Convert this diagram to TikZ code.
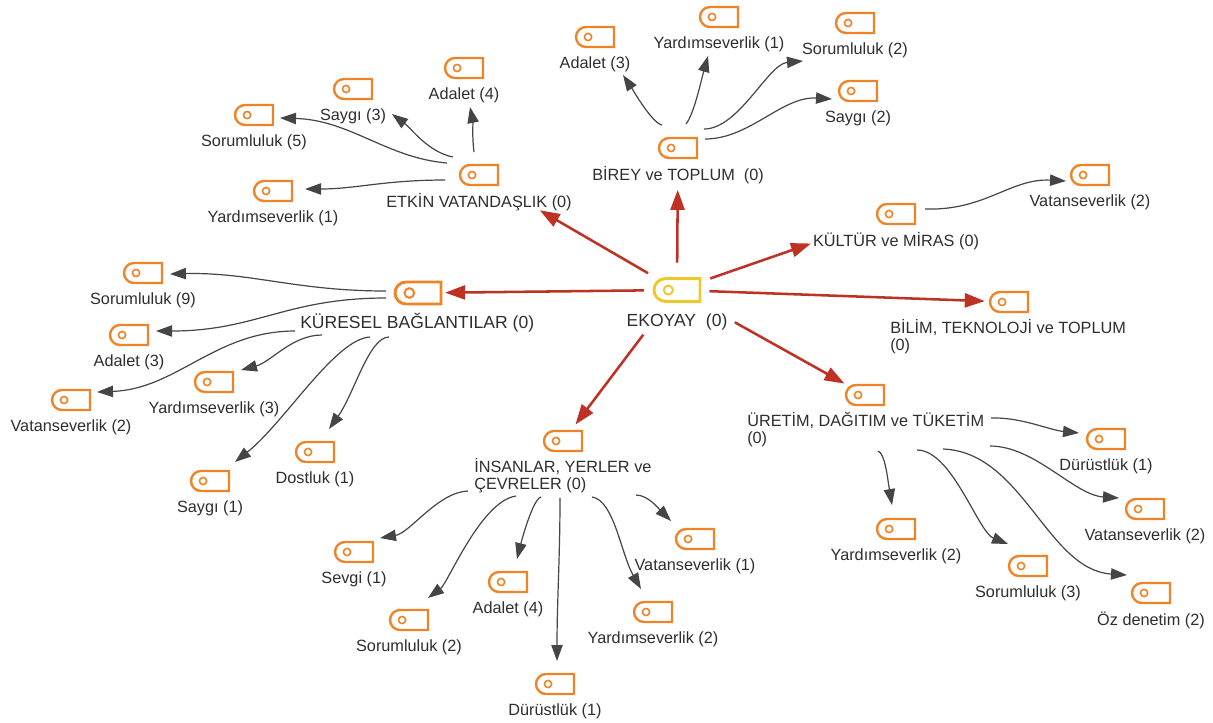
\documentclass[tikz,border=0pt]{standalone}
\usepackage{fontspec}
\setmainfont{Liberation Sans}
\usetikzlibrary{shapes.misc,arrows.meta}

\definecolor{tagorange}{HTML}{EE8427}
\definecolor{tagyellow}{HTML}{EFC82A}
\definecolor{mainred}{HTML}{BE3226}
\definecolor{thingray}{HTML}{454545}
\definecolor{labelgray}{HTML}{2E2E2E}

\tikzset{
    tag node/.style={rounded rectangle,rounded rectangle east arc=none,draw=tagorange,line width=1.8pt,inner sep=0pt,minimum width=28.5pt,minimum height=15pt,
        path picture={\draw[tagorange,line width=1.2pt] ([xshift=-5.2pt,yshift=0pt]path picture bounding box.center) circle (2.7pt);}},
    big node/.style={tag node,line width=2.2pt,minimum width=34.5pt,minimum height=16.5pt,
        path picture={\draw[tagorange,line width=1.5pt] ([xshift=-6.5pt]path picture bounding box.center) circle (3.6pt);}},
    root node/.style={big node,draw=tagyellow,minimum height=17pt,
        path picture={\draw[tagyellow,line width=1.4pt] ([xshift=-6.5pt]path picture bounding box.center) circle (3.4pt);}},
    text node/.style={font=\fontsize{12.2pt}{12.7pt}\selectfont,text=labelgray,inner sep=0pt,align=left},
    big text/.style={text node,font=\fontsize{13.15pt}{14pt}\selectfont},
    red edge/.style={-{Triangle[length=15pt,width=10.5pt]},mainred,line width=1.9pt},
    gray edge/.style={-{Triangle[length=12pt,width=8.5pt]},thingray,line width=0.9pt}
}

\begin{document}
\begin{tikzpicture}[x=0.75pt,y=-0.75pt,node distance=20.5pt]
    \useasboundingbox (0,0) rectangle (1213,722);

    % ana dal
    \node[root node] (ekoyay) at (677,290) {};
    \node[big text,below of=ekoyay,yshift=-3.5pt] (ekoyay l) {EKOYAY \ (0)};
    \node[tag node] (etkin) at (479,175) {};
    \node[text node,below of=etkin] (etkin l) {ETKİN VATANDAŞLIK (0)};
    \node[tag node] (birey) at (678,148) {};
    \node[text node,below of=birey] (birey l) {BİREY ve TOPLUM \ (0)};
    \node[tag node] (kultur) at (896,214) {};
    \node[text node,below of=kultur] (kultur l) {KÜLTÜR ve MİRAS (0)};
    \node[tag node] (bilim) at (1009,302) {};
    \node[text node,anchor=west] (bilim l) at (890,337) {BİLİM, TEKNOLOJİ ve TOPLUM\\(0)};
    \node[big node] (kuresel) at (418,293) {};
    \node[big text,anchor=west] (kuresel l) at (300,323) {KÜRESEL BAĞLANTILAR (0)};
    \node[tag node] (uretim) at (865,395) {};
    \node[text node,anchor=west] (uretim l) at (747,430) {ÜRETİM, DAĞITIM ve TÜKETİM\\(0)};
    \node[tag node] (insanlar) at (563,441) {};
    \node[text node,anchor=west] (insanlar l) at (474,476) {İNSANLAR, YERLER ve\\ÇEVRELER (0)};

    % etkin vatandaslik
    \node[tag node] (e adalet) at (464,68) {};
    \node[text node,below of=e adalet] (e adalet l) {Adalet (4)};
    \node[tag node] (e saygi) at (353,89) {};
    \node[text node,below of=e saygi] (e saygi l) {Saygı (3)};
    \node[tag node] (e sorumluluk) at (254,115) {};
    \node[text node,below of=e sorumluluk] (e sorumluluk l) {Sorumluluk (5)};
    \node[tag node] (e yardim) at (273,191) {};
    \node[text node,below of=e yardim] (e yardim l) {Yardımseverlik (1)};

    % birey ve toplum
    \node[tag node] (b adalet) at (595,37) {};
    \node[text node,below of=b adalet] (b adalet l) {Adalet (3)};
    \node[tag node] (b yardim) at (719,17) {};
    \node[text node,below of=b yardim] (b yardim l) {Yardımseverlik (1)};
    \node[tag node] (b sorumluluk) at (855,23) {};
    \node[text node,below of=b sorumluluk] (b sorumluluk l) {Sorumluluk (2)};
    \node[tag node] (b saygi) at (858,91) {};
    \node[text node,below of=b saygi] (b saygi l) {Saygı (2)};

    % kultur ve miras
    \node[tag node] (k vatan) at (1090,175) {};
    \node[text node,below of=k vatan] (k vatan l) {Vatanseverlik (2)};

    % kuresel baglantilar
    \node[tag node] (g sorumluluk) at (143,273) {};
    \node[text node,below of=g sorumluluk] (g sorumluluk l) {Sorumluluk (9)};
    \node[tag node] (g adalet) at (129,335) {};
    \node[text node,below of=g adalet] (g adalet l) {Adalet (3)};
    \node[tag node] (g vatan) at (71,400) {};
    \node[text node,below of=g vatan] (g vatan l) {Vatanseverlik (2)};
    \node[tag node] (g yardim) at (214,382) {};
    \node[text node,below of=g yardim] (g yardim l) {Yardımseverlik (3)};
    \node[tag node] (g saygi) at (210,481) {};
    \node[text node,below of=g saygi] (g saygi l) {Saygı (1)};
    \node[tag node] (g dostluk) at (315,452) {};
    \node[text node,below of=g dostluk] (g dostluk l) {Dostluk (1)};

    % insanlar
    \node[tag node] (i sevgi) at (354,552) {};
    \node[text node,below of=i sevgi] (i sevgi l) {Sevgi (1)};
    \node[tag node] (i sorumluluk) at (409,620) {};
    \node[text node,below of=i sorumluluk] (i sorumluluk l) {Sorumluluk (2)};
    \node[tag node] (i adalet) at (508,582) {};
    \node[text node,below of=i adalet] (i adalet l) {Adalet (4)};
    \node[tag node] (i durust) at (555,684) {};
    \node[text node,below of=i durust] (i durust l) {Dürüstlük (1)};
    \node[tag node] (i yardim) at (653,612) {};
    \node[text node,below of=i yardim] (i yardim l) {Yardımseverlik (2)};
    \node[tag node] (i vatan) at (695,539) {};
    \node[text node,below of=i vatan] (i vatan l) {Vatanseverlik (1)};

    % uretim
    \node[tag node] (u durust) at (1106,439) {};
    \node[text node,below of=u durust] (u durust l) {Dürüstlük (1)};
    \node[tag node] (u vatan) at (1145,509) {};
    \node[text node,below of=u vatan] (u vatan l) {Vatanseverlik (2)};
    \node[tag node] (u yardim) at (896,529) {};
    \node[text node,below of=u yardim] (u yardim l) {Yardımseverlik (2)};
    \node[tag node] (u sorumluluk) at (1028,566) {};
    \node[text node,below of=u sorumluluk] (u sorumluluk l) {Sorumluluk (3)};
    \node[tag node] (u oz) at (1151,593) {};
    \node[text node,below of=u oz] (u oz l) {Öz denetim (2)};

    \path[red edge]
        (ekoyay) edge[shorten <=9pt,shorten >=36pt] (etkin)
        (ekoyay) edge[shorten <=11pt,shorten >=23pt] (birey)
        (ekoyay) edge[shorten <=7pt,shorten >=53pt] (kultur)
        (ekoyay) edge[shorten <=6pt,shorten >=3pt] (bilim)
        (ekoyay) edge[shorten <=30pt,shorten >=4pt] (uretim)
        (ekoyay) edge[shorten <=30pt,shorten >=5pt] (insanlar)
        (ekoyay) edge[shorten <=6.5pt,shorten >=2pt] (kuresel)
        ;

    \draw[gray edge] ([shift={(-5,-23)}]etkin.center) .. controls +(-2,-15) and +(3,15) .. ([shift={(6,39)}]e adalet.center);
    \draw[gray edge] ([shift={(-26,-18)}]etkin.center) .. controls +(-25,-5) and +(20,15) .. ([shift={(39,25)}]e saygi.center);
    \draw[gray edge] ([shift={(-32,-12)}]etkin.center) .. controls +(-60,-5) and +(70,2) .. ([shift={(26,3)}]e sorumluluk.center);
    \draw[gray edge] ([shift={(-34,5)}]etkin.center) .. controls +(-60,0) and +(50,0) .. ([shift={(32,-2)}]e yardim.center);

    \draw[gray edge] ([shift={(-16,-23)}]birey.center) .. controls +(-10,-2) and +(10,15) .. ([shift={(28,38)}]b adalet.center);
    \draw[gray edge] ([shift={(8,-24)}]birey.center) .. controls +(8,-10) and +(-7,25) .. ([shift={(-11,39)}]b yardim.center);
    \draw[gray edge] ([shift={(26,-19)}]birey.center) .. controls +(35,0) and +(-35,3) .. ([shift={(-52,38)}]b sorumluluk.center);
    \draw[gray edge] ([shift={(27,-9)}]birey.center) .. controls +(45,0) and +(-50,-3) .. ([shift={(-26,8)}]b saygi.center);

    \draw[gray edge] ([shift={(29,-5)}]kultur.center) .. controls +(60,2) and +(-55,-3) .. ([shift={(-24,6)}]k vatan.center);

    \draw[gray edge] ([shift={(-32,-2)}]kuresel.center) .. controls +(-90,0) and +(80,-2) .. ([shift={(27,1)}]g sorumluluk.center);
    \draw[gray edge] ([shift={(-32,5)}]kuresel.center) .. controls +(-100,0) and +(100,0) .. ([shift={(27,-4)}]g adalet.center);
    \draw[gray edge] ([shift={(-123,38)}]kuresel.center) .. controls +(-80,0) and +(80,-3) .. ([shift={(26,-8)}]g vatan.center);
    \draw[gray edge] ([shift={(-96,42)}]kuresel.center) .. controls +(-30,0) and +(30,-8) .. ([shift={(27,-12)}]g yardim.center);
    \draw[gray edge] ([shift={(-48,44)}]kuresel.center) .. controls +(-35,2) and +(50,-40) .. ([shift={(25,-19)}]g saygi.center);
    \draw[gray edge] ([shift={(-29,44)}]kuresel.center) .. controls +(-20,0) and +(25,-35) .. ([shift={(14,-23)}]g dostluk.center);

    \draw[gray edge] ([shift={(-95,50)}]insanlar.center) .. controls +(-30,1) and +(30,-5) .. ([shift={(26,-14)}]i sevgi.center);
    \draw[gray edge] ([shift={(-47,55)}]insanlar.center) .. controls +(-35,5) and +(20,-15) .. ([shift={(19,-22)}]i sorumluluk.center);
    \draw[gray edge] ([shift={(-22,56)}]insanlar.center) .. controls +(-8,2) and +(5,-20) .. ([shift={(9,-23)}]i adalet.center);
    \draw[gray edge] ([shift={(-3,57)}]insanlar.center) .. controls +(0,60) and +(0,-60) .. ([shift={(2,-23)}]i durust.center);
    \draw[gray edge] ([shift={(29,56)}]insanlar.center) .. controls +(22,3) and +(-20,-35) .. ([shift={(-12,-23)}]i yardim.center);
    \draw[gray edge] ([shift={(73,54)}]insanlar.center) .. controls +(12,0) and +(-12,-12) .. ([shift={(-24,-18)}]i vatan.center);

    \draw[gray edge] ([shift={(126,23)}]uretim.center) .. controls +(30,-1) and +(-30,-3) .. ([shift={(-27,-6)}]u durust.center);
    \draw[gray edge] ([shift={(125,51)}]uretim.center) .. controls +(45,0) and +(-45,-3) .. ([shift={(-26,-11)}]u vatan.center);
    \draw[gray edge] ([shift={(13,56)}]uretim.center) .. controls +(7,3) and +(-5,-30) .. ([shift={(-4,-24)}]u yardim.center);
    \draw[gray edge] ([shift={(52,55)}]uretim.center) .. controls +(35,0) and +(-30,-12) .. ([shift={(-20,-22)}]u sorumluluk.center);
    \draw[gray edge] ([shift={(78,54)}]uretim.center) .. controls +(80,3) and +(-80,-5) .. ([shift={(-24,-18)}]u oz.center);
\end{tikzpicture}
\end{document}
